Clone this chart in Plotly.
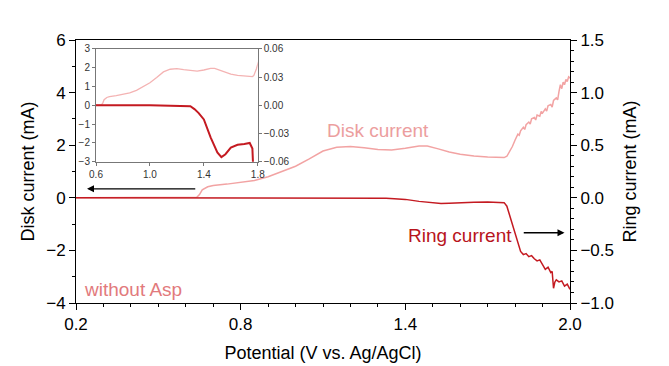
import plotly.graph_objects as go

# Disk current (mA, left axis)
disk_x = [0.2, 0.4, 0.6, 0.64, 0.65, 0.66, 0.68, 0.70, 0.75, 0.80, 0.85, 0.90, 0.95, 1.00, 1.05, 1.10,
          1.15, 1.20, 1.25, 1.30, 1.35, 1.40, 1.45, 1.48, 1.52, 1.56, 1.60, 1.65, 1.70, 1.74, 1.76,
          1.77, 1.78, 1.79, 1.80, 1.805, 1.81, 1.815, 1.82, 1.83, 1.835, 1.84, 1.85, 1.855, 1.86,
          1.87, 1.875, 1.88, 1.89, 1.895, 1.90, 1.91, 1.915, 1.92, 1.93, 1.935, 1.94, 1.95, 1.955,
          1.96, 1.965, 1.97, 1.975, 1.98, 1.985, 1.99, 1.995, 2.0]
disk_y = [0.0, 0.0, 0.0, 0.02, 0.12, 0.3, 0.42, 0.47, 0.52, 0.58, 0.66, 0.8, 1.0, 1.2, 1.48, 1.78,
          1.92, 1.95, 1.9, 1.84, 1.82, 1.88, 1.97, 1.97, 1.86, 1.74, 1.66, 1.59, 1.55, 1.52, 1.53,
          1.58, 1.75, 1.95, 2.2, 2.3, 2.42, 2.38, 2.55, 2.68, 2.6, 2.78, 2.88, 2.8, 3.0,
          3.05, 2.96, 3.15, 3.1, 3.28, 3.22, 3.38, 3.3, 3.5, 3.55, 3.45, 3.7, 3.8, 3.72,
          4.05, 4.3, 4.15, 4.4, 4.3, 4.5, 4.42, 4.6, 4.55]

# Ring current (mA, right axis)
ring_x = [0.2, 0.6, 1.0, 1.3, 1.33, 1.36, 1.40, 1.45, 1.50, 1.53, 1.56, 1.60, 1.65, 1.70, 1.74,
          1.76, 1.77, 1.78, 1.79, 1.80, 1.81, 1.82, 1.83, 1.84, 1.85, 1.86, 1.87, 1.88, 1.89,
          1.90, 1.91, 1.92, 1.93, 1.935, 1.94, 1.945, 1.95, 1.96, 1.97, 1.98, 1.99, 2.0]
ring_y = [0.0, 0.0, 0.0, -0.001, -0.004, -0.008, -0.015, -0.034, -0.05, -0.055, -0.052, -0.045,
          -0.042, -0.041, -0.040, -0.046, -0.08, -0.17, -0.25, -0.33, -0.43, -0.51, -0.54, -0.53,
          -0.56, -0.55, -0.58, -0.6, -0.59, -0.63, -0.68, -0.66, -0.71, -0.70, -0.86, -0.80,
          -0.78, -0.80, -0.79, -0.84, -0.82, -0.87]

x_ticks = [0.2, 0.8, 1.4, 2.0]
inset_x_ticks = [0.6, 1.0, 1.4, 1.8]

DISK = "#F2A3A3"
DISK_INSET = "#F4B3B3"
RING = "#C41A21"
FONT = "Liberation Sans, Arial, sans-serif"

fig = go.Figure()
fig.add_trace(go.Scatter(x=disk_x, y=disk_y, mode="lines", line=dict(color=DISK, width=1.5),
                         xaxis="x", yaxis="y", showlegend=False))
fig.add_trace(go.Scatter(x=ring_x, y=ring_y, mode="lines", line=dict(color=RING, width=1.5),
                         xaxis="x", yaxis="y2", showlegend=False))
# inset
fig.add_trace(go.Scatter(x=disk_x, y=disk_y, mode="lines", line=dict(color=DISK_INSET, width=1.3),
                         xaxis="x3", yaxis="y3", showlegend=False))
fig.add_trace(go.Scatter(x=ring_x, y=ring_y, mode="lines", line=dict(color=RING, width=2),
                         xaxis="x3", yaxis="y4", showlegend=False))

ax_common = dict(showgrid=False, zeroline=False, linecolor="black", linewidth=1, automargin=False,
                 ticks="outside", tickcolor="black", tickfont=dict(size=17, color="black", family=FONT))
inset_common = dict(showgrid=False, zeroline=False, linecolor="#777777", ticks="outside", ticklen=3,
                    tickcolor="#777777", automargin=False,
                    tickfont=dict(size=10, color="#333333", family=FONT))

fig.update_layout(
    width=661, height=358,
    margin=dict(l=68, r=99, t=32, b=63),
    paper_bgcolor="white", plot_bgcolor="white",
    font=dict(family=FONT, color="black"),
    xaxis=dict(range=[0.2, 2.0], tickvals=x_ticks, ticktext=[f"{v:.1f}" for v in x_ticks],
               ticklen=6, mirror=True,
               minor=dict(dtick=0.1, tick0=0.2, ticklen=3, ticks="outside", tickcolor="black"),
               title=dict(text="Potential (V vs. Ag/AgCl)", font=dict(size=18), standoff=12),
               **ax_common),
    yaxis=dict(range=[-4, 6], dtick=2, tick0=0, ticklen=6,
               minor=dict(dtick=1, ticklen=3, ticks="outside", tickcolor="black"),
               title=dict(text="Disk current (mA)", font=dict(size=18), standoff=6),
               **ax_common),
    yaxis2=dict(range=[-1, 1.5], dtick=0.5, tick0=0, tickformat=".1f", ticklen=6,
                overlaying="y", side="right", anchor="x",
                minor=dict(dtick=0.1, ticklen=3, ticks="outside", tickcolor="black"),
                title=dict(text="Ring current (mA)", font=dict(size=18), standoff=10),
                **ax_common),
    xaxis3=dict(domain=[0.0405, 0.368], anchor="y3", range=[0.6, 1.8], tickvals=inset_x_ticks,
                ticktext=[f"{v:.1f}" for v in inset_x_ticks], mirror=True, **inset_common),
    yaxis3=dict(domain=[0.537, 0.966], anchor="x3", range=[-3, 3], dtick=1, **inset_common),
    yaxis4=dict(range=[-0.06, 0.06], tickvals=[-0.06, -0.03, 0.0, 0.03, 0.06], tickformat=".2f",
                overlaying="y3", anchor="x3", side="right", **inset_common),
    annotations=[
        dict(text="Disk current", x=1.30, y=2.55, xref="x", yref="y", showarrow=False,
             font=dict(size=19, color="#EC9E9E", family=FONT)),
        dict(text="Ring current", x=1.60, y=-1.45, xref="x", yref="y", showarrow=False,
             font=dict(size=19, color="#B8141C", family=FONT)),
        dict(text="without Asp", x=0.222, y=-3.5, xref="x", yref="y", xanchor="left", showarrow=False,
             font=dict(size=19, color="#E27A7C", family=FONT)),
        dict(text="", x=0.24, y=0.34, ax=0.64, ay=0.34, xref="x", yref="y", axref="x", ayref="y",
             showarrow=True, arrowhead=2, arrowsize=1, arrowwidth=1.4, arrowcolor="black"),
        dict(text="", x=1.98, y=-1.33, ax=1.826, ay=-1.33, xref="x", yref="y", axref="x", ayref="y",
             showarrow=True, arrowhead=2, arrowsize=1, arrowwidth=1.4, arrowcolor="black"),
    ],
)

fig.write_html("out.html")
